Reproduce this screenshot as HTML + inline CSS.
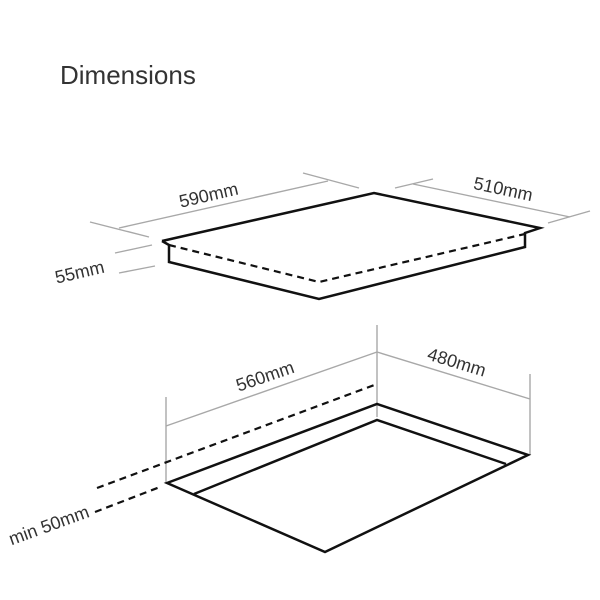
<!DOCTYPE html>
<html><head><meta charset="utf-8"><style>
html,body{margin:0;padding:0;background:#fff;width:600px;height:600px;overflow:hidden}
svg{display:block}
text{font-family:"Liberation Sans",sans-serif;fill:#333}
</style></head><body>
<svg width="600" height="600" viewBox="0 0 600 600" xmlns="http://www.w3.org/2000/svg">
<text x="60" y="84" font-size="26" fill="#333">Dimensions</text>

<g stroke="#a8a8a8" stroke-width="1.4" fill="none">
  <line x1="119" y1="228" x2="328" y2="181"/>
  <line x1="90" y1="222" x2="149" y2="237"/>
  <line x1="303" y1="173" x2="359" y2="188"/>
  <line x1="413" y1="184" x2="570" y2="217"/>
  <line x1="395" y1="188" x2="433" y2="179"/>
  <line x1="548" y1="223" x2="590" y2="211"/>
  <line x1="115" y1="253" x2="152" y2="245"/>
  <line x1="119" y1="273" x2="155" y2="266"/>
  <line x1="377" y1="325" x2="377" y2="417"/>
  <line x1="166" y1="397" x2="166" y2="483"/>
  <line x1="530" y1="374" x2="530" y2="455"/>
  <line x1="166" y1="426" x2="377" y2="352"/>
  <line x1="377" y1="352" x2="530" y2="399"/>
</g>

<g stroke="#111" stroke-width="2.5" fill="none" stroke-linejoin="miter">
  <polyline points="162,241 374,193 540,228 525,233 525,247 319,299 169,262 169,245 162,241"/>
  <polygon points="167,483 377,404 528,455 325,552"/>
  <polyline points="194,494 377,420 506,464"/>
</g>
<g stroke="#111" stroke-width="2.2" fill="none" stroke-dasharray="7,5">
  <polyline points="169,245 319,282 525,234"/>
  <line x1="97" y1="488" x2="377" y2="384"/>
  <line x1="95" y1="512" x2="160" y2="487"/>
</g>

<text font-size="18" text-anchor="middle" transform="translate(210,201) rotate(-13)">590mm</text>
<text font-size="18" text-anchor="middle" transform="translate(502,195) rotate(12)">510mm</text>
<text font-size="18" text-anchor="middle" transform="translate(81,278) rotate(-13)">55mm</text>
<text font-size="18" text-anchor="middle" transform="translate(267,382) rotate(-19)">560mm</text>
<text font-size="18" text-anchor="middle" transform="translate(455,368) rotate(17)">480mm</text>
<text font-size="18" text-anchor="middle" transform="translate(51,531) rotate(-20)">min 50mm</text>
</svg>
</body></html>
